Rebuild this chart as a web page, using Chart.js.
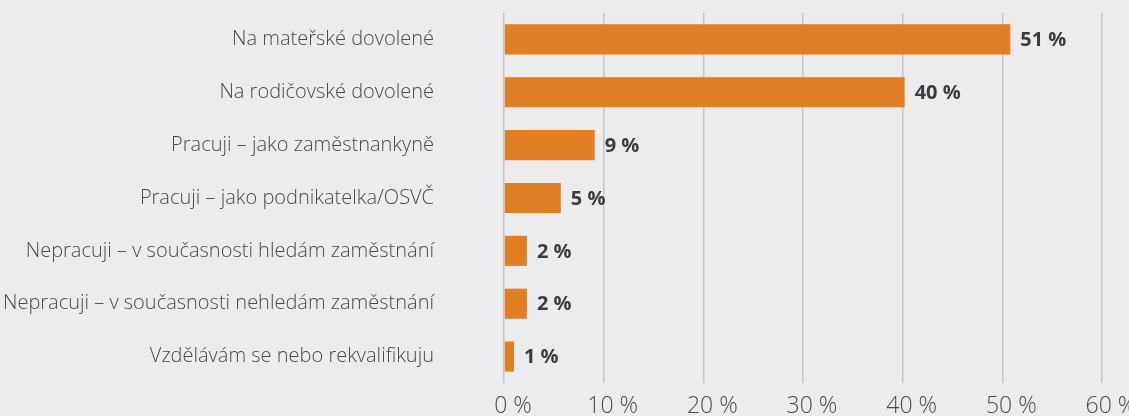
<!DOCTYPE html>
<html>
<head>
<meta charset="utf-8">
<script src="https://cdn.jsdelivr.net/npm/chart.js@4"></script>
<style>
    html, body { margin: 0; padding: 0; background: #ececee; overflow: hidden; }
    #wrap { width: 1129px; height: 440px; position: relative; }
</style>
</head>
<body>
<div id="wrap"><canvas id="chart"></canvas></div>
<script>
// categories (top to bottom)
const categories = [
    'Na mateřské dovolené',
    'Na rodičovské dovolené',
    'Pracuji – jako zaměstnankyně',
    'Pracuji – jako podnikatelka/OSVČ',
    'Nepracuji – v současnosti hledám zaměstnání',
    'Nepracuji – v současnosti nehledám zaměstnání',
    'Vzdělávám se nebo rekvalifikuju'
];
// bar lengths (percent)
const shares = [50.8, 40.2, 9.1, 5.7, 2.3, 2.3, 1.0];
// printed labels next to each bar
const shareLabels = ['51 %', '40 %', '9 %', '5 %', '2 %', '2 %', '1 %'];
const xTicks = [0, 10, 20, 30, 40, 50, 60];

const FONT = "'Open Sans', 'DejaVu Sans', sans-serif";

// draws the bold value label right of each bar
const valueLabels = {
    id: 'valueLabels',
    afterDatasetsDraw(chart) {
        const ctx = chart.ctx;
        const meta = chart.getDatasetMeta(0);
        ctx.save();
        ctx.font = 'bold 20px ' + FONT;
        ctx.fillStyle = '#3c3c3c';
        ctx.textAlign = 'left';
        ctx.textBaseline = 'middle';
        meta.data.forEach(function (bar, i) {
            ctx.fillText(shareLabels[i], bar.x + 10, bar.y + 1);
        });
        ctx.restore();
    }
};

new Chart(document.getElementById('chart'), {
    type: 'bar',
    data: {
        labels: categories,
        datasets: [{
            data: shares,
            backgroundColor: '#e07f26',
            borderWidth: 0,
            categoryPercentage: 1,
            barPercentage: 0.57
        }]
    },
    options: {
        indexAxis: 'y',
        responsive: true,
        maintainAspectRatio: false,
        animation: false,
        layout: { padding: { top: 13, right: 27, left: 0, bottom: 0 } },
        plugins: {
            legend: { display: false },
            tooltip: { enabled: false }
        },
        scales: {
            x: {
                min: 0,
                max: 60,
                afterBuildTicks(scale) {
                    scale.ticks = xTicks.map(v => ({ value: v }));
                },
                grid: { color: '#c6c6c8', lineWidth: 1.5, drawTicks: false },
                border: { display: false },
                ticks: {
                    padding: 10,
                    labelOffset: 9,
                    color: '#4a4a4a',
                    font: { family: FONT, size: 23, weight: '300' },
                    callback: v => v + ' %'
                },
                afterFit(scale) {
                    scale.height = 57;
                    scale.paddingLeft = 0;
                    scale.paddingRight = 0;
                }
            },
            y: {
                grid: { display: false },
                border: { display: false },
                ticks: {
                    padding: 62,
                    color: '#4a4a4a',
                    font: { family: FONT, size: 20, weight: '300' }
                },
                afterFit(scale) {
                    scale.width = 504;
                    scale.paddingTop = 0;
                    scale.paddingBottom = 0;
                }
            }
        }
    },
    plugins: [valueLabels]
});
</script>
</body>
</html>
